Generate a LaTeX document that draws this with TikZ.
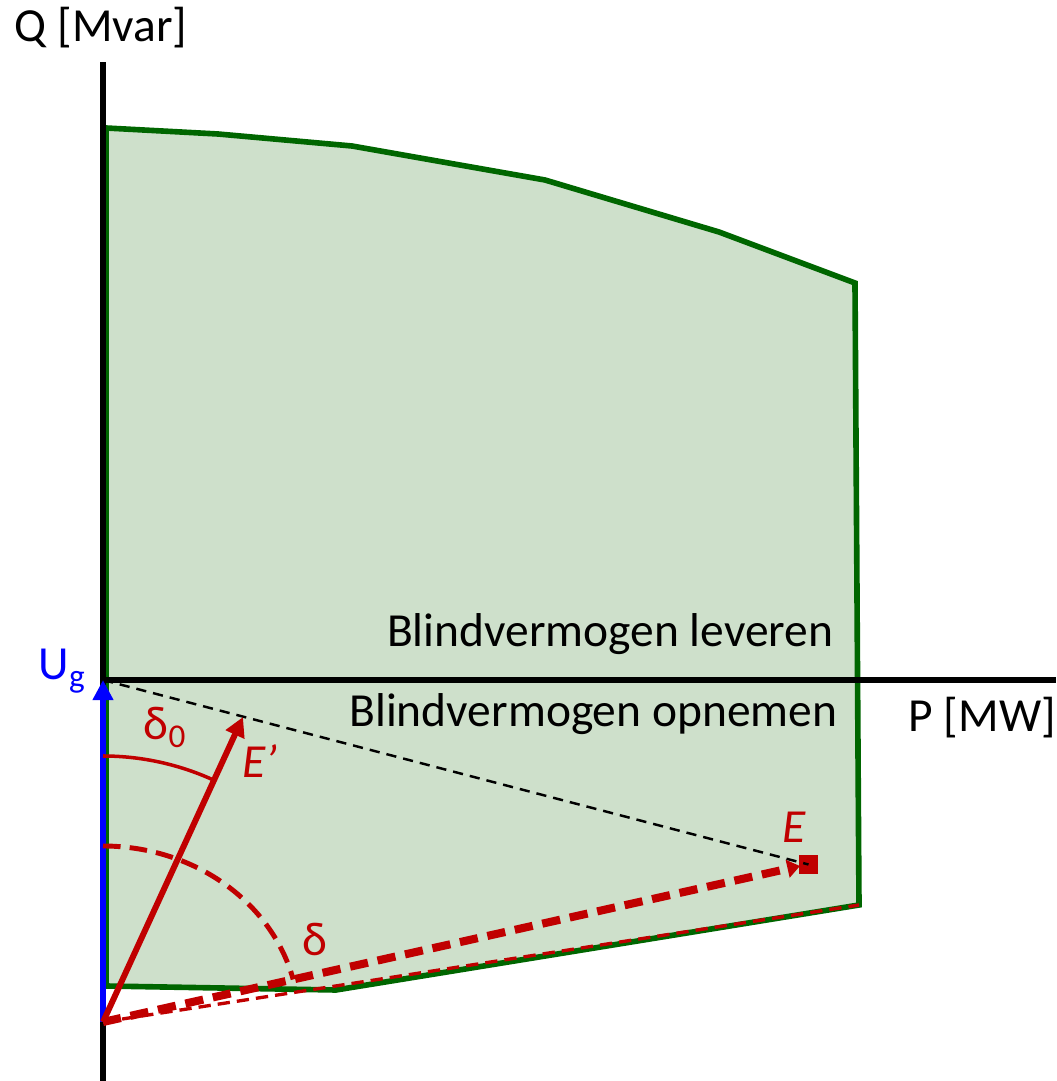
\documentclass[tikz,border=0pt]{standalone}
\usepackage{fontspec}
\setmainfont{Carlito}
\usetikzlibrary{arrows.meta}
\definecolor{gline}{RGB}{0,102,0}
\definecolor{gfill}{RGB}{206,224,203}
\definecolor{dred}{RGB}{192,0,0}
\definecolor{ublue}{RGB}{0,0,255}
\tikzset{
  region/.style={draw=gline, fill=gfill, line width=1.6pt, line join=miter},
  axis/.style={black, line width=1.75pt},
  lbl/.style={inner sep=0pt, font=\fontsize{13.5}{16}\selectfont},
  vecred/.style={dred, line width=1.7pt, -{Triangle[length=5.5pt,width=5.6pt]}},
  vecblue/.style={ublue, line width=1.8pt, -{Triangle[length=5.7pt,width=5.6pt]}},
  vecE/.style={dred, line width=2.3pt, dash pattern=on 5.2pt off 2.8pt, -{Triangle[length=3.6pt,width=5pt]}},
  thinred/.style={dred, line width=0.95pt, dash pattern=on 3.5pt off 2pt},
  thinblack/.style={black, line width=0.7pt, dash pattern=on 2.9pt off 2pt},
}
\begin{document}
\begin{tikzpicture}[x=0.01cm, y=0.01cm]
\useasboundingbox (0,0) rectangle (1056,1081);
% operating region
\draw[region] (106,953) -- (218,947) -- (352,935) -- (545,901) -- (719,849) -- (855,798)
  -- (859,176) -- (336,91) -- (106,95) -- cycle;
% axes
\coordinate (ytop) at (103,1019);
\coordinate (ybot) at (103,0);
\coordinate (xl) at (103,401);
\coordinate (xr) at (1056,401);
\draw[axis] (ybot) -- (ytop);
\draw[axis] (xl) -- (xr);
% key points
\coordinate (O) at (103,59);
\coordinate (Ug) at (103,401);
\coordinate (Ep) at (243,364);
\coordinate (Etip) at (800,215);
\coordinate (Rend) at (859,176);
\node[fill=dred, minimum size=0.19cm, inner sep=0pt] (Esq) at (808.5,216.5) {};
% dashed helper lines
\draw[thinblack] (Ug) -- (Esq.center);
\draw[thinred] (O) -- (Rend);
% vectors
\draw[vecblue] (O) -- (Ug);
\draw[vecred] (O) -- (Ep);
\draw[vecE] (O) -- (Etip);
% angle arcs
\draw[dred, line width=1pt] (103,325) arc[start angle=90, end angle=65.3, radius=266];
\draw[dred, line width=1.4pt, dash pattern=on 5pt off 2.6pt] (103,235) arc[start angle=90, end angle=14, x radius=196, y radius=176];
% labels
\node[lbl, anchor=base] (qlab) at (101,1039) {Q [Mvar]};
\node[lbl, anchor=base west] (plab) at (908,349) {P [MW]};
\node[lbl, anchor=base east] (lev) at (834,434) {Blindvermogen leveren};
\node[lbl, anchor=base east] (opn) at (838,354) {Blindvermogen opnemen};
\node[lbl, anchor=base west, text=ublue] (uglab) at (38,401) {U\textsubscript{g}};
\node[lbl, anchor=base west, text=dred] (d0lab) at (143,341) {δ\textsubscript{0}};
\node[lbl, anchor=base west, text=dred] (dlab) at (302,126) {δ};
\node[lbl, anchor=base west, text=dred] (eplab) at (242,303) {\itshape E’};
\node[lbl, anchor=base west, text=dred] (elab) at (782,238) {\itshape E};
\end{tikzpicture}
\end{document}
